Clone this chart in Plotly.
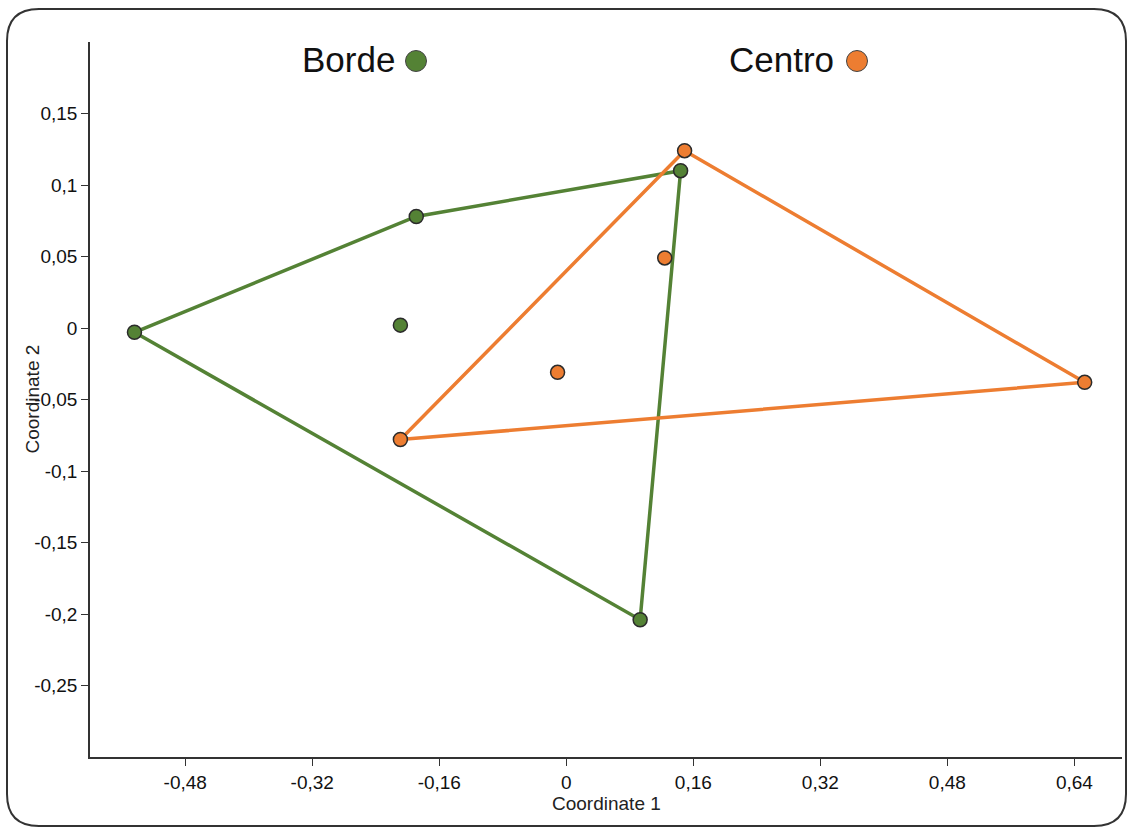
import plotly.graph_objects as go

# ---- data ----
borde_x = [-0.544, -0.189, 0.144, 0.093, -0.209]
borde_y = [-0.003, 0.078, 0.110, -0.204, 0.002]
borde_hull = [0, 1, 2, 3, 0]

centro_x = [0.149, 0.124, -0.011, -0.209, 0.653]
centro_y = [0.124, 0.049, -0.031, -0.078, -0.038]
centro_hull = [0, 4, 3, 0]

x_ticks = [-0.48, -0.32, -0.16, 0, 0.16, 0.32, 0.48, 0.64]
x_ticktext = ["-0,48", "-0,32", "-0,16", "0", "0,16", "0,32", "0,48", "0,64"]
y_ticks = [0.15, 0.1, 0.05, 0, -0.05, -0.1, -0.15, -0.2, -0.25]
y_ticktext = ["0,15", "0,1", "0,05", "0", "-0,05", "-0,1", "-0,15", "-0,2", "-0,25"]

groups = ["Borde", "Centro"]
GREEN = "#548235"
ORANGE = "#ED7D31"
EDGE = "#2b2b2b"
FONT = "Liberation Sans, Arial, sans-serif"

W, H = 1133, 828
ML, MR, MT, MB = 90, 11, 42, 71
PW, PH = W - ML - MR, H - MT - MB


def px(x):
    return (x - ML) / PW


def py(y):
    return (H - MB - y) / PH


fig = go.Figure()

fig.add_trace(go.Scatter(
    x=[borde_x[i] for i in borde_hull], y=[borde_y[i] for i in borde_hull],
    mode="lines", line=dict(color=GREEN, width=3.5), hoverinfo="skip", showlegend=False))
fig.add_trace(go.Scatter(
    x=[centro_x[i] for i in centro_hull], y=[centro_y[i] for i in centro_hull],
    mode="lines", line=dict(color=ORANGE, width=3.5), hoverinfo="skip", showlegend=False))
fig.add_trace(go.Scatter(
    x=borde_x, y=borde_y, mode="markers", name=groups[0],
    marker=dict(size=14, color=GREEN, line=dict(color=EDGE, width=1.5)), showlegend=False))
fig.add_trace(go.Scatter(
    x=centro_x, y=centro_y, mode="markers", name=groups[1],
    marker=dict(size=14, color=ORANGE, line=dict(color=EDGE, width=1.5)), showlegend=False))

axis_common = dict(
    showgrid=False, zeroline=False, showline=True, linecolor="#333333", linewidth=1.5,
    ticks="outside", ticklen=7, tickwidth=1.2, tickcolor="#333333",
    tickfont=dict(family=FONT, size=19, color="#111111"),
)
fig.update_xaxes(range=[-0.6, 0.70], tickvals=x_ticks, ticktext=x_ticktext, **axis_common)
fig.update_yaxes(range=[-0.3, 0.2], tickvals=y_ticks, ticktext=y_ticktext, **axis_common)

annotations = [
    dict(text="Coordinate 1", x=0.5, y=0, xref="paper", yref="paper", xanchor="center",
         yanchor="middle", yshift=-46, showarrow=False,
         font=dict(family=FONT, size=19, color="#222222")),
    dict(text="Coordinate 2", x=0, y=0.5, xref="paper", yref="paper", xanchor="center",
         yanchor="middle", xshift=-58, textangle=-90, showarrow=False,
         font=dict(family=FONT, size=19, color="#222222")),
    dict(text=groups[0], x=px(300), y=py(60), xref="paper", yref="paper", xanchor="left",
         yanchor="middle", showarrow=False, font=dict(family=FONT, size=35, color="#111111")),
    dict(text=groups[1], x=px(727), y=py(60), xref="paper", yref="paper", xanchor="left",
         yanchor="middle", showarrow=False, font=dict(family=FONT, size=35, color="#111111")),
]

shapes = []
for cx, col in [(416, GREEN), (857, ORANGE)]:
    shapes.append(dict(type="circle", xref="paper", yref="paper", xsizemode="pixel",
                       ysizemode="pixel", xanchor=px(cx), yanchor=py(61),
                       x0=-10.5, x1=10.5, y0=-10.5, y1=10.5,
                       fillcolor=col, line=dict(color="#444444", width=1)))

# rounded outer frame
L, T, R, B, r = 7, 9, 1126, 826, 32
path = (f"M {px(L + r)},{py(T)} L {px(R - r)},{py(T)} Q {px(R)},{py(T)} {px(R)},{py(T + r)} "
        f"L {px(R)},{py(B - r)} Q {px(R)},{py(B)} {px(R - r)},{py(B)} "
        f"L {px(L + r)},{py(B)} Q {px(L)},{py(B)} {px(L)},{py(B - r)} "
        f"L {px(L)},{py(T + r)} Q {px(L)},{py(T)} {px(L + r)},{py(T)} Z")
shapes.append(dict(type="path", xref="paper", yref="paper", path=path,
                   line=dict(color="#333333", width=2), layer="below"))

fig.update_layout(
    width=W, height=H, margin=dict(l=ML, r=MR, t=MT, b=MB),
    paper_bgcolor="white", plot_bgcolor="white",
    annotations=annotations, shapes=shapes, showlegend=False,
    font=dict(family=FONT),
)

fig.write_html("out.html", config={"displayModeBar": False},
               post_script="document.body.style.margin='0';document.body.style.overflow='hidden';")
